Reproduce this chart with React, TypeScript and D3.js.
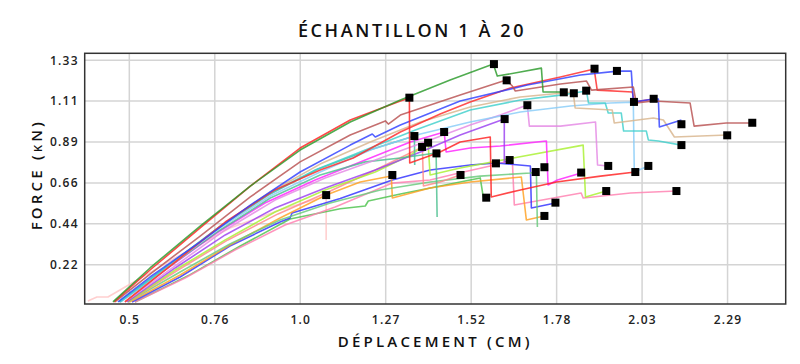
import React, { useEffect, useRef } from 'react'
import * as d3 from 'd3'

const xTickLabels = ['0.5', '0.76', '1.0', '1.27', '1.52', '1.78', '2.03', '2.29']
const yTickLabels = ['0.22', '0.44', '0.66', '0.89', '1.11', '1.33']

const greenDark = [[0.451,0.020],[0.562,0.204],[0.712,0.431],[0.862,0.648],[1.011,0.843],[1.161,0.995],[1.311,1.114],[1.460,1.223],[1.589,1.309],[1.601,1.244],[1.670,1.266],[1.733,1.287],[1.738,1.158],[1.798,1.158]]
const red1 = [[0.454,0.020],[0.562,0.193],[0.712,0.421],[0.862,0.648],[1.011,0.854],[1.161,1.006],[1.311,1.109],[1.338,1.125],[1.339,0.773],[1.430,0.833],[1.490,0.887],[1.580,0.914],[1.583,0.589],[1.670,0.627],[1.778,0.670],[1.910,0.702],[2.014,0.724]]
const red2 = [[0.487,0.020],[0.637,0.236],[0.787,0.453],[0.936,0.627],[1.071,0.735],[1.170,0.800],[1.311,0.941],[1.430,1.038],[1.520,1.103],[1.640,1.179],[1.790,1.239],[1.891,1.282],[1.900,1.168],[2.005,1.158],[2.011,1.103],[2.068,1.120]]
const brown = [[0.457,0.020],[0.562,0.171],[0.712,0.377],[0.862,0.589],[1.011,0.779],[1.161,0.925],[1.266,1.001],[1.275,0.984],[1.311,1.033],[1.490,1.141],[1.628,1.223],[1.646,1.190],[1.655,1.163],[1.790,1.201],[1.868,1.217],[1.883,1.168],[2.008,1.185],[2.017,1.098],[2.068,1.109],[2.178,1.098],[2.190,0.973],[2.286,0.990],[2.364,0.990]]
const blue1 = [[0.466,0.020],[0.562,0.155],[0.712,0.345],[0.862,0.545],[1.011,0.724],[1.161,0.870],[1.227,0.930],[1.236,0.914],[1.311,0.979],[1.490,1.109],[1.691,1.196],[1.850,1.250],[1.961,1.271],[2.002,1.271],[2.008,1.103],[2.068,1.120],[2.083,1.120],[2.086,0.968],[2.152,1.006]]
const tan = [[0.487,0.020],[0.622,0.215],[0.772,0.431],[0.922,0.616],[1.071,0.767],[1.221,0.887],[1.371,0.995],[1.520,1.076],[1.670,1.131],[1.828,1.158],[1.834,1.071],[1.945,1.060],[1.951,0.990],[2.068,1.017],[2.098,1.006],[2.131,0.914],[2.289,0.925]]
const turquoise = [[0.472,0.020],[0.607,0.204],[0.757,0.410],[0.906,0.594],[1.056,0.735],[1.206,0.843],[1.356,0.952],[1.520,1.060],[1.670,1.114],[1.790,1.141],[1.868,1.163],[1.874,1.098],[1.924,1.098],[1.933,1.044],[1.972,1.044],[1.979,0.946],[2.047,0.946],[2.053,0.898],[2.083,0.892],[2.152,0.870]]
const skyBlue = [[0.475,0.020],[0.622,0.215],[0.772,0.421],[0.922,0.594],[1.071,0.724],[1.221,0.843],[1.371,0.930],[1.520,0.995],[1.670,1.049],[1.820,1.082],[1.939,1.098],[2.008,1.103],[2.011,0.724],[2.053,0.757]]
const violet = [[0.487,0.020],[0.637,0.215],[0.787,0.410],[0.936,0.572],[1.086,0.692],[1.236,0.789],[1.400,0.898],[1.520,0.979],[1.610,1.033],[1.691,1.087],[1.697,0.973],[1.790,0.973],[1.895,0.995],[1.901,0.762],[1.933,0.757]]
const purple = [[0.493,0.020],[0.637,0.204],[0.787,0.383],[0.936,0.529],[1.086,0.637],[1.236,0.735],[1.386,0.843],[1.490,0.925],[1.622,1.012],[1.622,0.779],[1.637,0.789]]
const magenta = [[0.472,0.020],[0.607,0.193],[0.757,0.388],[0.906,0.556],[1.056,0.681],[1.206,0.789],[1.341,0.887],[1.442,0.941],[1.448,0.833],[1.520,0.854],[1.610,0.865],[1.748,0.892],[1.753,0.654],[1.781,0.681],[1.852,0.719]]
const lime = [[0.496,0.020],[0.637,0.193],[0.787,0.356],[0.936,0.507],[1.086,0.627],[1.236,0.724],[1.341,0.816],[1.394,0.881],[1.400,0.708],[1.490,0.746],[1.649,0.800],[1.858,0.870],[1.865,0.589],[1.927,0.621]]
const orange = [[0.502,0.020],[0.652,0.166],[0.801,0.328],[0.951,0.475],[1.089,0.599],[1.191,0.670],[1.284,0.702],[1.287,0.583],[1.400,0.637],[1.520,0.670],[1.673,0.697],[1.688,0.464],[1.741,0.486]]
const blue2 = [[0.508,0.020],[0.652,0.155],[0.801,0.323],[0.951,0.453],[0.981,0.475],[0.987,0.502],[1.131,0.580],[1.287,0.681],[1.400,0.735],[1.520,0.762],[1.598,0.773],[1.700,0.757],[1.703,0.529],[1.775,0.556]]
const pink = [[0.517,0.020],[0.667,0.150],[0.816,0.301],[0.966,0.437],[1.116,0.535],[1.287,0.664],[1.400,0.681],[1.490,0.720],[1.580,0.757],[1.646,0.789],[1.652,0.545],[1.852,0.610],[1.858,0.583],[2.000,0.610],[2.137,0.621]]
const greenLow = [[0.517,0.020],[0.682,0.168],[0.832,0.323],[0.981,0.469],[1.131,0.525],[1.206,0.540],[1.215,0.567],[1.311,0.605],[1.460,0.659],[1.550,0.692],[1.559,0.589],[1.568,0.583]]
const greenMid = [[0.496,0.020],[0.652,0.182],[0.801,0.334],[0.951,0.464],[1.101,0.556],[1.251,0.627],[1.400,0.670],[1.550,0.702],[1.700,0.719],[1.718,0.724],[1.721,0.426]]
const seaGreen = [[0.472,0.020],[0.622,0.215],[0.772,0.410],[0.922,0.583],[1.071,0.708],[1.206,0.779],[1.311,0.800],[1.418,0.827],[1.421,0.480]]
const salmon = [[0.496,0.020],[0.646,0.193],[0.795,0.356],[0.945,0.497],[1.095,0.616],[1.236,0.735],[1.377,0.860],[1.380,0.648],[1.430,0.670],[1.490,0.708]]
const aqua = [[0.469,0.020],[0.616,0.215],[0.766,0.421],[0.916,0.599],[1.065,0.740],[1.209,0.838],[1.353,0.919],[1.354,0.762]]
const paleRose = [[0.376,0.025],[0.403,0.047],[0.436,0.047],[0.637,0.258],[0.801,0.421],[0.951,0.518],[1.089,0.594],[1.089,0.356]]

const series = [
  { name: 'paleRose', color: '#ffc4c4', data: paleRose },
  { name: 'greenLow', color: '#4cc24c', data: greenLow },
  { name: 'pink', color: '#ff7fb0', data: pink },
  { name: 'blue2', color: '#2f2fff', data: blue2 },
  { name: 'orange', color: '#ffa020', data: orange },
  { name: 'greenMid', color: '#66c97a', data: greenMid },
  { name: 'salmon', color: '#ff8888', data: salmon },
  { name: 'lime', color: '#a8f030', data: lime },
  { name: 'magenta', color: '#ff22ff', data: magenta },
  { name: 'purple', color: '#9a40f0', data: purple },
  { name: 'seaGreen', color: '#4cbf8f', data: seaGreen },
  { name: 'aqua', color: '#3fbf9f', data: aqua },
  { name: 'violet', color: '#e488e4', data: violet },
  { name: 'skyBlue', color: '#88ccf8', data: skyBlue },
  { name: 'turquoise', color: '#40d0cc', data: turquoise },
  { name: 'tan', color: '#d8b48c', data: tan },
  { name: 'red2', color: '#ff2a2a', data: red2 },
  { name: 'blue1', color: '#3040ff', data: blue1 },
  { name: 'brown', color: '#b85050', data: brown },
  { name: 'red1', color: '#ff2020', data: red1 },
  { name: 'greenDark', color: '#2a9a2a', data: greenDark },
]

// failure / end points (black squares)
const markerPoints = [[1.089,0.599],[1.287,0.708],[1.338,1.127],[1.353,0.919],[1.376,0.860],[1.394,0.883],[1.419,0.825],[1.442,0.941],[1.491,0.708],[1.568,0.585],[1.591,1.309],[1.629,1.221],[1.623,1.011],[1.597,0.771],[1.638,0.789],[1.691,1.086],[1.716,0.724],[1.742,0.750],[1.742,0.486],[1.775,0.558],[1.800,1.156],[1.830,1.151],[1.867,1.165],[1.852,0.721],[1.892,1.284],[1.933,0.757],[1.927,0.621],[1.959,1.272],[2.010,1.104],[2.014,0.724],[2.053,0.757],[2.069,1.121],[2.137,0.621],[2.152,0.983],[2.152,0.870],[2.289,0.923],[2.364,0.991]]

const W = 800, H = 364
const left = 84.7, right = 785.7, top = 53.3, bottom = 304
const font = "'Open Sans', sans-serif"

const App = () => {
  const ref = useRef(null)

  useEffect(() => {
    const svg = d3.select(ref.current)
    svg.selectAll('*').remove()

    const x = d3.scaleLinear().domain([0.3665, 2.464]).range([left, right])
    const y = d3.scaleLinear().domain([0.0087, 1.3675]).range([bottom, top])

    const xStep = (2.29 - 0.5) / 7
    const xTicks = xTickLabels.map((_, i) => 0.5 + i * xStep)
    const yTicks = yTickLabels.map((_, i) => (i + 1) * 1.33 / 6)

    // grid
    svg.append('g').selectAll('line').data(xTicks).enter().append('line')
      .attr('x1', d => x(d)).attr('x2', d => x(d))
      .attr('y1', top).attr('y2', bottom)
      .attr('stroke', '#d4d4d4').attr('stroke-width', 1.5)
    svg.append('g').selectAll('line').data(yTicks).enter().append('line')
      .attr('x1', left).attr('x2', right)
      .attr('y1', d => y(d)).attr('y2', d => y(d))
      .attr('stroke', '#d4d4d4').attr('stroke-width', 1.5)

    // axes
    const xAxis = svg.append('g').attr('transform', `translate(0,${bottom})`)
      .call(d3.axisBottom(x).tickValues(xTicks).tickSize(0).tickPadding(11)
        .tickFormat((d, i) => xTickLabels[i]))
    const yAxis = svg.append('g').attr('transform', `translate(${left},0)`)
      .call(d3.axisLeft(y).tickValues(yTicks).tickSize(0).tickPadding(6)
        .tickFormat((d, i) => yTickLabels[i]))
    for (const a of [xAxis, yAxis]) {
      a.select('.domain').remove()
      a.selectAll('text')
        .attr('font-family', font).attr('font-size', 12).attr('font-weight', 600)
        .attr('letter-spacing', '1.2px').attr('fill', '#222')
    }

    svg.append('clipPath').attr('id', 'plotclip').append('rect')
      .attr('x', left).attr('y', top).attr('width', right - left).attr('height', bottom - top)

    const line = d3.line().x(d => x(d[0])).y(d => y(d[1]))
    const g = svg.append('g').attr('clip-path', 'url(#plotclip)')
    g.selectAll('path.series').data(series).enter().append('path')
      .attr('class', 'series')
      .attr('d', d => line(d.data))
      .attr('fill', 'none')
      .attr('stroke', d => d.color)
      .attr('stroke-opacity', 0.82)
      .attr('stroke-width', 1.6)
      .attr('stroke-linejoin', 'round')

    g.selectAll('rect.mk').data(markerPoints).enter().append('rect')
      .attr('class', 'mk')
      .attr('x', d => x(d[0]) - 4).attr('y', d => y(d[1]) - 4)
      .attr('width', 8).attr('height', 8)
      .attr('fill', '#000')

    // frame
    svg.append('rect')
      .attr('x', left).attr('y', top).attr('width', right - left).attr('height', bottom - top)
      .attr('fill', 'none').attr('stroke', '#333').attr('stroke-width', 1.5)

    svg.append('text')
      .attr('x', 412).attr('y', 37).attr('text-anchor', 'middle')
      .attr('font-family', font).attr('font-size', 18).attr('font-weight', 600)
      .attr('letter-spacing', '2.6px').attr('fill', '#111')
      .text('ÉCHANTILLON 1 À 20')

    svg.append('text')
      .attr('x', (left + right) / 2).attr('y', 347).attr('text-anchor', 'middle')
      .attr('font-family', font).attr('font-size', 15).attr('font-weight', 600)
      .attr('letter-spacing', '3.2px').attr('fill', '#111')
      .text('DÉPLACEMENT (CM)')

    svg.append('text')
      .attr('transform', `translate(42,${(top + bottom) / 2 - 4}) rotate(-90)`)
      .attr('text-anchor', 'middle')
      .attr('font-family', font).attr('font-size', 15).attr('font-weight', 600)
      .attr('letter-spacing', '3.2px').attr('fill', '#111')
      .style('font-variant', 'small-caps')
      .text('FORCE (kN)')
  }, [])

  return (
    <svg ref={ref} width={W} height={H} style={{ position: 'absolute', left: 0, top: 0 }} />
  )
}

export default App
